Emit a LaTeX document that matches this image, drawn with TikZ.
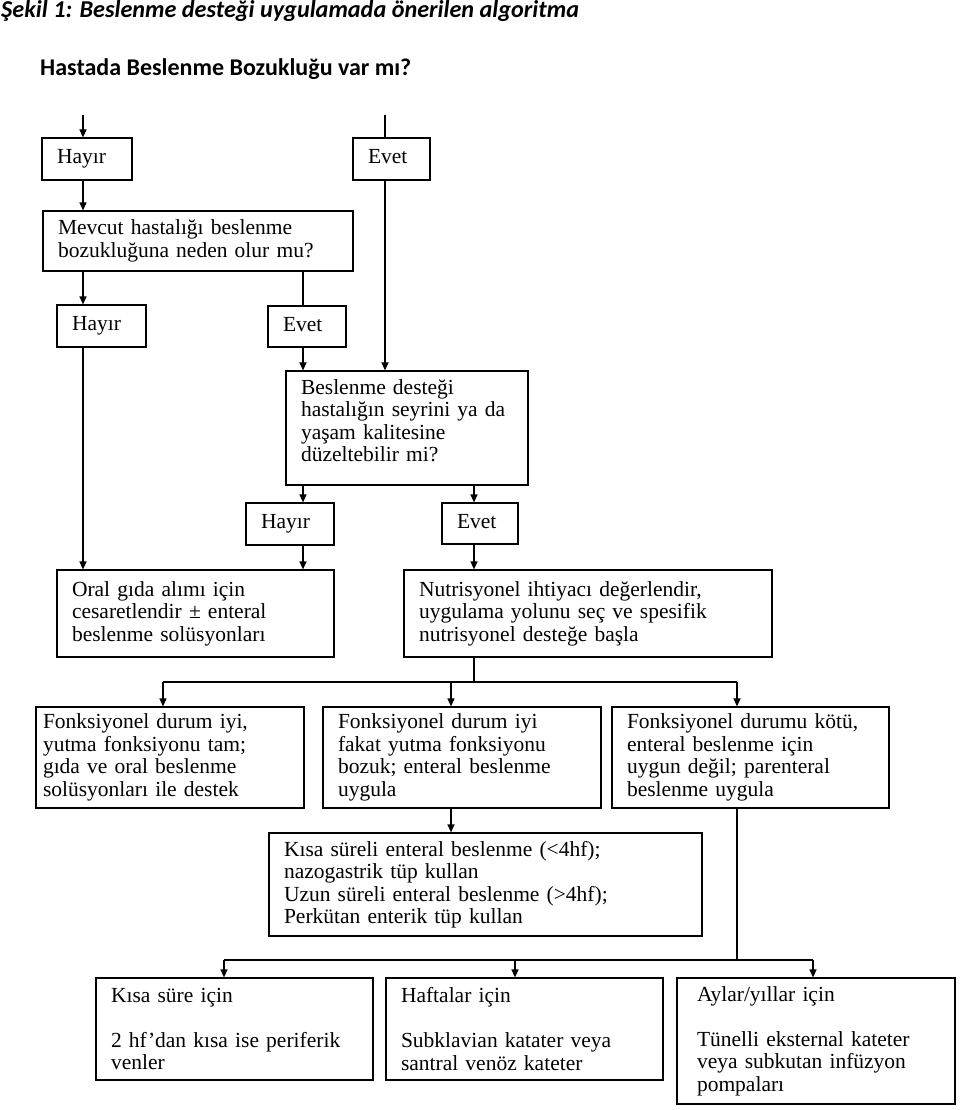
\documentclass[tikz,border=0pt]{standalone}
\usepackage{fontspec}
\setmainfont{Liberation Serif}
\newfontfamily\calibri{Carlito}
\usetikzlibrary{arrows.meta}
\begin{document}
\begin{tikzpicture}[x=1pt,y=-1pt,
    box/.style={draw, line width=1.2pt, inner xsep=15pt, inner ysep=0pt, align=left,
      font=\fontsize{21.5}{22.5}\selectfont},
    answer/.style={box, execute at begin node=\strut},
    dims/.style n args={3}{minimum width=#1pt, minimum height=#2pt, text width=#3pt},
    heading/.style={anchor=base west, inner sep=0pt, font=\calibri\bfseries\fontsize{24}{28}\selectfont},
    >={Triangle[length=8pt,width=7pt]}]
  \useasboundingbox (0,0) rectangle (960,1110);
  \draw
    (1,18) node[heading, font=\calibri\bfseries\itshape\fontsize{24.2}{29}\selectfont] (title)
      {Şekil 1: Beslenme desteği uygulamada önerilen algoritma}
    (40,76) node[heading] (question) {Hastada Beslenme Bozukluğu var mı?}
    (87,159) node[answer, dims={90}{42}{60}] (hayir1) {Hayır}
    (391.5,159) node[answer, dims={77}{42}{47}] (evet1) {Evet}
    (198,241) node[box, dims={310}{60}{280}] (mevcut) {Mevcut hastalığı beslenme\\bozukluğuna neden olur mu?}
    (101.5,326) node[answer, dims={89}{42}{59}] (hayir2) {Hayır}
    (307,326.5) node[answer, dims={78}{41}{48}] (evet2) {Evet}
    (407,428) node[box, dims={242}{114}{212}] (beslenme)
      {Beslenme desteği\\hastalığın seyrini ya da\\yaşam kalitesine\\düzeltebilir mi?\\[-8pt]\mbox{}}
    (290,524) node[answer, dims={88}{42}{58}] (hayir3) {Hayır}
    (480,523.5) node[answer, dims={76}{41}{46}] (evet3) {Evet}
    (195.5,613.5) node[box, dims={277}{87}{247}] (oral)
      {Oral gıda alımı için\\cesaretlendir ± enteral\\beslenme solüsyonları}
    (588,613.5) node[box, dims={368}{87}{338}] (nutri)
      {Nutrisyonel ihtiyacı değerlendir,\\uygulama yolunu seç ve spesifik\\nutrisyonel desteğe başla}
    (170,757.5) node[box, dims={268}{101}{254}, inner xsep=7pt] (fonk1)
      {Fonksiyonel durum iyi,\\yutma fonksiyonu tam;\\gıda ve oral beslenme\\solüsyonları ile destek}
    (462,757.5) node[box, dims={278}{101}{248}] (fonk2)
      {Fonksiyonel durum iyi\\fakat yutma fonksiyonu\\bozuk; enteral beslenme\\uygula}
    (750.5,757.5) node[box, dims={277}{101}{247}] (fonk3)
      {Fonksiyonel durumu kötü,\\enteral beslenme için\\uygun değil; parenteral\\beslenme uygula}
    (485.5,884.5) node[box, dims={433}{103}{403}] (enteral)
      {Kısa süreli enteral beslenme (<4hf);\\nazogastrik tüp kullan\\Uzun süreli enteral beslenme (>4hf);\\Perkütan enterik tüp kullan}
    (234.5,1029) node[box, dims={277}{102}{247}] (kisa)
      {Kısa süre için\\[22.5pt]2 hf’dan kısa ise periferik\\venler}
    (524.5,1029) node[box, dims={277}{102}{247}] (haftalar)
      {Haftalar için\\[22.5pt]Subklavian katater veya\\santral venöz kateter}
    (816,1041) node[box, dims={278}{126}{238}, inner xsep=20pt] (aylar)
      {Aylar/yıllar için\\[22.5pt]Tünelli eksternal kateter\\veya subkutan infüzyon\\pompaları};
  \coordinate (colA) at (83,115);
  \coordinate (colB) at (385,115);
  \coordinate (colC) at (303,290);
  \coordinate (colD) at (474,500);
  \coordinate (split1) at (163,682);
  \coordinate (split2) at (451,682);
  \coordinate (split3) at (737,682);
  \coordinate (low1) at (224,960);
  \coordinate (low2) at (515,960);
  \coordinate (low3) at (813,960);
  \coordinate (lowjoin) at (737,960);
  \begin{scope}[line width=1.2pt]
    \draw[->] (colA) to (colA |- hayir1.north);
    \draw[->] (hayir1.south -| colA) to (mevcut.north -| colA);
    \draw[->] (mevcut.south -| colA) to (hayir2.north -| colA);
    \draw[->] (hayir2.south -| colA) to (oral.north -| colA);
    \draw (colB) to (colB |- evet1.north);
    \draw[->] (evet1.south -| colB) to (beslenme.north -| colB);
    \draw (mevcut.south -| colC) to (evet2.north -| colC);
    \draw[->] (evet2.south -| colC) to (beslenme.north -| colC);
    \draw[->] (beslenme.south -| colC) to (hayir3.north -| colC);
    \draw[->] (hayir3.south -| colC) to (oral.north -| colC);
    \draw[->] (beslenme.south -| colD) to (evet3.north -| colD);
    \draw[->] (evet3.south -| colD) to (nutri.north -| colD);
    \draw (nutri.south -| colD) to (colD |- split1);
    \draw (split1) to (split3);
    \draw[->] (split1) to (split1 |- fonk1.north);
    \draw[->] (split2) to (split2 |- fonk2.north);
    \draw[->] (split3) to (split3 |- fonk3.north);
    \draw[->] (fonk2.south -| split2) to (enteral.north -| split2);
    \draw (fonk3.south -| lowjoin) to (lowjoin);
    \draw (low1) to (low3);
    \draw[->] (low1) to (low1 |- kisa.north);
    \draw[->] (low2) to (low2 |- haftalar.north);
    \draw[->] (low3) to (low3 |- aylar.north);
  \end{scope}
\end{tikzpicture}
\end{document}
